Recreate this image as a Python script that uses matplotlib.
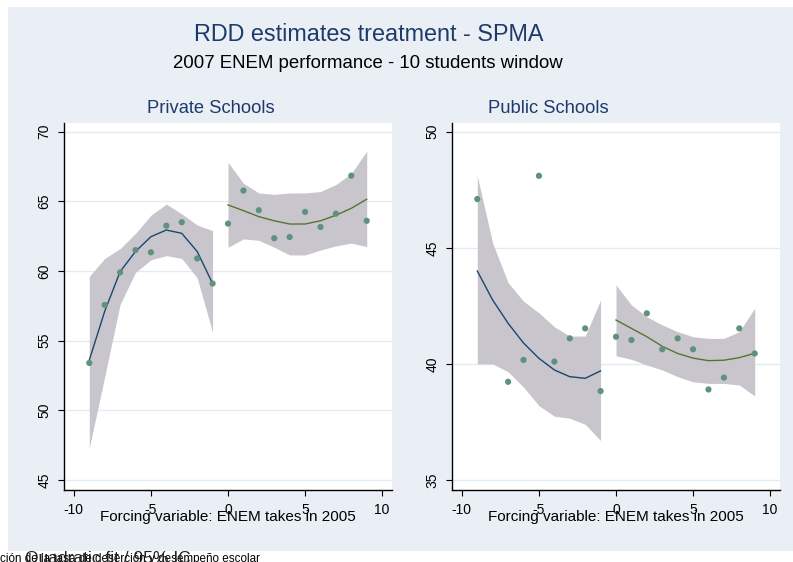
import matplotlib
matplotlib.use("Agg")
import matplotlib.pyplot as plt
from matplotlib.patches import Rectangle
import numpy as np

plt.rcParams['font.family'] = ['Liberation Sans', 'DejaVu Sans']

# ---------------- data ----------------
# Private schools
priv_x_left = [-9, -8, -7, -6, -5, -4, -3, -2, -1]
priv_y_left = [53.4, 57.56, 59.9, 61.5, 61.34, 63.25, 63.5, 60.9, 59.1]
priv_fit_left = [53.6, 57.1, 59.95, 61.4, 62.46, 62.94, 62.7, 61.4, 59.1]
priv_hi_left = [59.6, 60.9, 61.6, 62.7, 64.0, 64.8, 64.1, 63.3, 62.9]
priv_lo_left = [47.3, 52.4, 57.6, 59.9, 60.8, 61.1, 60.9, 59.5, 55.6]

priv_x_right = [0, 1, 2, 3, 4, 5, 6, 7, 8, 9]
priv_y_right = [63.4, 65.77, 64.36, 62.35, 62.44, 64.24, 63.16, 64.11, 66.84, 63.6]
priv_fit_right = [64.74, 64.33, 63.9, 63.6, 63.37, 63.37, 63.6, 64.0, 64.5, 65.15]
priv_hi_right = [67.8, 66.3, 65.6, 65.5, 65.6, 65.6, 65.7, 66.2, 67.0, 68.6]
priv_lo_right = [61.7, 62.3, 62.2, 61.7, 61.15, 61.15, 61.5, 61.8, 62.0, 61.75]

# Public schools
pub_x_left = [-9, -7, -6, -5, -4, -3, -2, -1]
pub_y_left = [47.1, 39.23, 40.17, 48.1, 40.1, 41.1, 41.53, 38.83]
pub_fit_x_left = [-9, -8, -7, -6, -5, -4, -3, -2, -1]
pub_fit_left = [44.0, 42.75, 41.75, 40.9, 40.24, 39.74, 39.45, 39.38, 39.7]
pub_hi_left = [48.1, 45.2, 43.5, 42.7, 42.2, 41.6, 41.2, 41.2, 42.75]
pub_lo_left = [40.0, 40.0, 39.66, 39.0, 38.2, 37.75, 37.66, 37.4, 36.7]

pub_x_right = [0, 1, 2, 3, 4, 5, 6, 7, 8, 9]
pub_y_right = [41.17, 41.03, 42.18, 40.63, 41.1, 40.63, 38.9, 39.41, 41.53, 40.45]
pub_fit_right = [41.89, 41.53, 41.17, 40.76, 40.45, 40.25, 40.14, 40.16, 40.27, 40.46]
pub_hi_right = [43.4, 42.54, 42.03, 41.68, 41.39, 41.17, 41.1, 41.1, 41.39, 42.4]
pub_lo_right = [40.35, 40.2, 39.95, 39.74, 39.45, 39.23, 39.16, 39.16, 39.09, 38.62]

xticks = [-10, -5, 0, 5, 10]
priv_yticks = [45, 50, 55, 60, 65, 70]
pub_yticks = [35, 40, 45, 50]

title = "RDD estimates treatment - SPMA"
subtitle = "2007 ENEM performance - 10 students window"
panel_titles = ["Private Schools", "Public Schools"]
xlabel = "Forcing variable: ENEM takes in 2005"
legend_note = "Quadratic fit / 95% IC"
caption = "ción de la tasa de deserción y desempeño escolar"

# ---------------- style ----------------
W, H = 793, 562
BG = '#e9eff5'
GRID = '#e2ebf2'
BAND = '#c8c6cc'
PTS = '#5f917f'
BLUE = '#1a476f'
GREEN = '#55752f'
NAVY = '#1e3a6b'

fig = plt.figure(figsize=(W / 100, H / 100), dpi=100)
fig.patch.set_facecolor('white')
fig.add_artist(Rectangle((8 / W, 1 - 551 / H), 785 / W, 544 / H,
                         transform=fig.transFigure, facecolor=BG,
                         edgecolor='none', zorder=0))


def px_axes(x0, x1, y0, y1):
    return fig.add_axes([x0 / W, 1 - y1 / H, (x1 - x0) / W, (y1 - y0) / H])


ax1 = px_axes(64, 392, 123, 490)
ax2 = px_axes(452, 780, 123, 490)


def style(ax, yticks, ylim):
    ax.set_facecolor('white')
    ax.set_xlim(-10.64, 10.64)
    ax.set_ylim(*ylim)
    ax.set_xticks(xticks)
    ax.set_xticklabels([str(t) for t in xticks])
    ax.set_yticks(yticks)
    ax.set_yticklabels([str(t) for t in yticks])
    for s in ['top', 'right']:
        ax.spines[s].set_visible(False)
    for s in ['left', 'bottom']:
        ax.spines[s].set_color('black')
        ax.spines[s].set_linewidth(1.0)
    ax.tick_params(axis='both', direction='out', length=4, width=0.8,
                   colors='black', labelsize=10)
    ax.tick_params(axis='x', pad=5)
    ax.tick_params(axis='y', pad=5, labelrotation=90)
    for lab in ax.get_yticklabels():
        lab.set_va('center')
    ax.yaxis.grid(True, color=GRID, linewidth=1.0)
    ax.set_axisbelow(True)


def draw(ax, xl, fl, hl, ll, sxl, syl, xr, fr, hr, lr, sxr, syr):
    ax.fill_between(xl, ll, hl, color=BAND, linewidth=0, zorder=2)
    ax.fill_between(xr, lr, hr, color=BAND, linewidth=0, zorder=2)
    ax.plot(xl, fl, color=BLUE, linewidth=1.0, zorder=3)
    ax.plot(xr, fr, color=GREEN, linewidth=1.0, zorder=3)
    ax.scatter(sxl, syl, s=20, color=PTS, edgecolors='none', zorder=4)
    ax.scatter(sxr, syr, s=20, color=PTS, edgecolors='none', zorder=4)


style(ax1, priv_yticks, (44.28, 70.62))
style(ax2, pub_yticks, (34.57, 50.375))

draw(ax1, priv_x_left, priv_fit_left, priv_hi_left, priv_lo_left,
     priv_x_left, priv_y_left,
     priv_x_right, priv_fit_right, priv_hi_right, priv_lo_right,
     priv_x_right, priv_y_right)
draw(ax2, pub_fit_x_left, pub_fit_left, pub_hi_left, pub_lo_left,
     pub_x_left, pub_y_left,
     pub_x_right, pub_fit_right, pub_hi_right, pub_lo_right,
     pub_x_right, pub_y_right)


def ftext(x, y, s, **kw):
    fig.text(x / W, 1 - y / H, s, **kw)


ftext(369, 40.7, title, ha='center', va='baseline', fontsize=16.8, color=NAVY)
ftext(367.5, 67.7, subtitle, ha='center', va='baseline', fontsize=13.4,
      color='black')
ftext(211, 113.3, panel_titles[0], ha='center', va='baseline', fontsize=13.2,
      color=NAVY)
ftext(548.3, 113.3, panel_titles[1], ha='center', va='baseline', fontsize=13.2,
      color=NAVY)
ftext(228, 521, xlabel, ha='center', va='baseline', fontsize=11, color='black')
ftext(616, 521, xlabel, ha='center', va='baseline', fontsize=11, color='black')
ftext(0, 562, caption, ha='left', va='baseline', fontsize=8.4, color='black')
ftext(25, 562.5, legend_note, ha='left', va='baseline', fontsize=12.5,
      color='#222222')

fig.savefig('out.png', dpi=100, facecolor=fig.get_facecolor())
